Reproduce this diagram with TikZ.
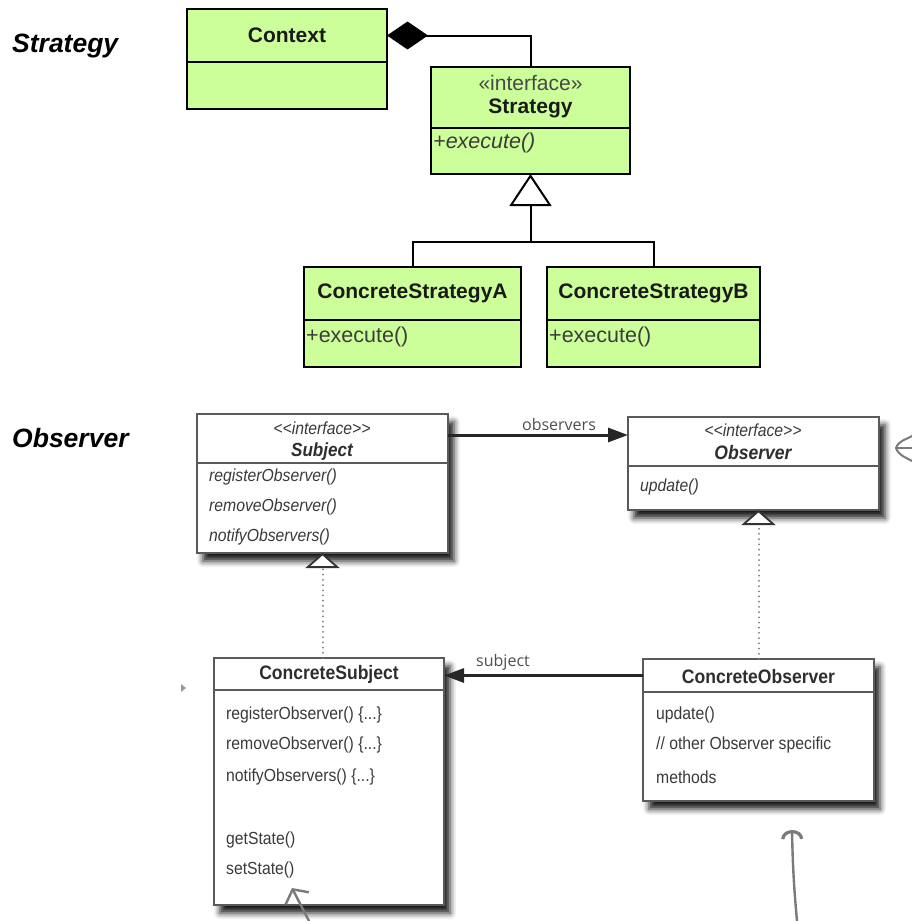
\documentclass[tikz,border=0pt]{standalone}
\usepackage{fontspec}
\setmainfont{Liberation Sans}
\newfontfamily\condfont[FakeStretch=0.9,Ligatures=TeXOff]{Liberation Sans}
\newfontfamily\lblfont{Open Sans}
\usetikzlibrary{arrows.meta,shadows.blur,backgrounds,fit}

\definecolor{umlgreen}{HTML}{CCFF99}
\definecolor{umlink}{HTML}{1A1A1A}
\definecolor{boxline}{HTML}{5A5A5A}
\definecolor{boxtext}{HTML}{3A3A3A}
\definecolor{penline}{HTML}{7A7A7A}

\tikzset{
  gbox/.style={draw=black, line width=2pt, fill=umlgreen, inner sep=0pt, outer sep=0pt},
  wbox/.style={draw=boxline, line width=1.4pt, fill=white, inner sep=0pt, outer sep=0pt},
  boxshade/.style={fill=white, inner sep=0pt, outer sep=0pt,
    blur shadow={shadow xshift=6pt, shadow yshift=-8pt, shadow blur radius=6pt, shadow opacity=90}},
  sectitle/.style={font=\fontsize{26.5}{30}\selectfont\bfseries\itshape, text=black, inner sep=0pt, anchor=base west},
  gtitle/.style={font=\fontsize{21}{25}\selectfont\bfseries, text=umlink, inner sep=0pt},
  gstereo/.style={font=\fontsize{21}{25}\selectfont, text=umlink!80, inner sep=0pt},
  gop/.style={font=\fontsize{21.5}{25}\selectfont, text=umlink!85, inner sep=0pt, anchor=west},
  wtitle/.style={font=\condfont\fontsize{19.5}{23}\selectfont\bfseries, text=boxtext!80!black, inner sep=0pt},
  wstereo/.style={font=\condfont\fontsize{17.5}{21}\selectfont\itshape, text=boxtext, inner sep=0pt},
  wop/.style={font=\condfont\fontsize{17.5}{21}\selectfont, text=boxtext, inner sep=0pt, anchor=west},
  rolelbl/.style={font=\lblfont\fontsize{16}{19}\selectfont, text=boxtext!90, inner sep=0pt},
  compose/.style={line width=2pt, draw=black, {Diamond[length=41pt, width=28pt, fill=black]}-},
  general/.style={line width=2pt, draw=black},
  realize/.style={draw=penline, line width=2pt, line cap=round, dash pattern=on 0.01pt off 5.2pt,
    -{Triangle[open, length=15pt, width=34pt, line width=1.8pt, color=black!80, fill=white]}},
  assoc/.style={draw=black!85, line width=3pt, -{Triangle[length=20pt, width=14pt]}},
  penstroke/.style={draw=penline, line width=2.4pt, line cap=round, line join=round},
}

\begin{document}
\begin{tikzpicture}[x=1pt, y=-1pt]
\useasboundingbox (0,0) rectangle (911,921);

% ---------------- Strategy pattern ----------------
\node[sectitle] (lblstrategy) at (12,52) {Strategy};

\node[gbox, minimum width=200pt, minimum height=53pt] (ctxhead) at (287,35.5) {};
\node[gbox, minimum width=200pt, minimum height=47pt, anchor=north] (ctxbody) at (ctxhead.south) {};
\node[gtitle] (ctxname) at (ctxhead) {Context};

\node[gbox, minimum width=199pt, minimum height=61pt] (sthead) at (530.5,97.5) {};
\node[gbox, minimum width=199pt, minimum height=46pt, anchor=north] (stbody) at (sthead.south) {};
\node[gstereo] (ststereo) at (530.5,83) {«interface»};
\node[gtitle] (stname) at (530.5,108) {Strategy};
\node[gop, font=\fontsize{21.5}{25}\selectfont\itshape] (stop) at (433,143) {+execute()};

\node[gbox, minimum width=217pt, minimum height=53pt] (cahead) at (412.5,293.5) {};
\node[gbox, minimum width=217pt, minimum height=47pt, anchor=north] (cabody) at (cahead.south) {};
\node[gtitle] (caname) at (cahead) {ConcreteStrategyA};
\node[gop] (caop) at (306,337) {+execute()};

\node[gbox, minimum width=213pt, minimum height=53pt] (cbhead) at (653.5,293.5) {};
\node[gbox, minimum width=213pt, minimum height=47pt, anchor=north] (cbbody) at (cbhead.south) {};
\node[gtitle] (cbname) at (cbhead) {ConcreteStrategyB};
\node[gop] (cbop) at (549,337) {+execute()};

% composition Context <>--- Strategy
\draw[compose] (ctxhead.east) -| (sthead.north);

% generalization of the two concrete strategies
\coordinate (stjoin) at (530.5,242);
\draw[general] (cahead.north) |- (stjoin) -| (cbhead.north);
\draw[general, -{Triangle[open, length=32pt, width=42pt, fill=white]}] (stjoin) -- (stbody.south);

% ---------------- Observer pattern ----------------
\node[sectitle] (lblobserver) at (12,447) {Observer};

% shadows behind the class boxes
\node[boxshade, minimum width=251pt, minimum height=139pt] (subjshade) at (322.5,483.5) {};
\node[boxshade, minimum width=251pt, minimum height=93pt] (obsshade) at (753.5,463.5) {};
\node[boxshade, minimum width=230pt, minimum height=247pt] (csshade) at (329,781.5) {};
\node[boxshade, minimum width=231pt, minimum height=142pt] (coshade) at (758.5,730) {};

% Subject
\node[wbox, minimum width=251pt, minimum height=49pt] (subjhead) at (322.5,438.5) {};
\node[wbox, minimum width=251pt, minimum height=90pt, anchor=north] (subjbody) at (subjhead.south) {};
\node[wstereo] (subjstereo) at (322,428) {<<interface>>};
\node[wtitle, font=\condfont\fontsize{19}{23}\selectfont\bfseries\itshape] (subjname) at (322,452) {Subject};
\node[wop, font=\condfont\fontsize{17.5}{21}\selectfont\itshape] (subjop1) at (209,477) {registerObserver()};
\node[wop, font=\condfont\fontsize{17.5}{21}\selectfont\itshape] (subjop2) at (209,507) {removeObserver()};
\node[wop, font=\condfont\fontsize{17.5}{21}\selectfont\itshape] (subjop3) at (209,537) {notifyObservers()};

% Observer
\node[wbox, minimum width=251pt, minimum height=49pt] (obshead) at (753.5,441.5) {};
\node[wbox, minimum width=251pt, minimum height=44pt, anchor=north] (obsbody) at (obshead.south) {};
\node[wstereo] (obsstereo) at (753,430) {<<interface>>};
\node[wtitle, font=\condfont\fontsize{19.5}{23}\selectfont\bfseries\itshape] (obsname) at (753,453) {Observer};
\node[wop, font=\condfont\fontsize{17.5}{21}\selectfont\itshape] (obsop) at (640,487) {update()};

% ConcreteSubject
\node[wbox, minimum width=230pt, minimum height=32pt] (cshead) at (329,674) {};
\node[wbox, minimum width=230pt, minimum height=215pt, anchor=north] (csbody) at (cshead.south) {};
\node[wtitle] (csname) at (329,674) {ConcreteSubject};
\node[wop] (csop1) at (226,715) {registerObserver() \{...\}};
\node[wop] (csop2) at (226,745) {removeObserver() \{...\}};
\node[wop] (csop3) at (226,777) {notifyObservers() \{...\}};
\node[wop] (csop4) at (226,840) {getState()};
\node[wop] (csop5) at (226,870) {setState()};

% ConcreteObserver
\node[wbox, minimum width=231pt, minimum height=33pt] (cohead) at (758.5,675.5) {};
\node[wbox, minimum width=231pt, minimum height=109pt, anchor=north] (cobody) at (cohead.south) {};
\node[wtitle] (coname) at (758.5,677) {ConcreteObserver};
\node[wop] (coop1) at (656,715) {update()};
\node[wop] (coop2) at (656,745) {// other Observer specific};
\node[wop] (coop3) at (656,777) {methods};

% associations
\draw[assoc] ([yshift=3.5pt]subjhead.east) -- ([yshift=3.5pt]subjhead.east -| obshead.west);
\node[rolelbl] (obsrole) at (559,424) {observers};
\draw[assoc] (cohead.west) -- (cohead.west -| cshead.east);
\node[rolelbl] (subjrole) at (503,662) {subject};

% realizations
\draw[realize] (cshead.north -| subjbody.south) -- (subjbody.south);
\draw[realize] (cohead.north) -- (cohead.north |- obsbody.south);

% small marker left of ConcreteSubject
\fill[black!40] (181,684) -- (186,688) -- (181,692) -- cycle;

% pen annotations
\coordinate (penAfrom) at (309,921);
\coordinate (penAto) at (292,888);
\draw[penstroke, -{Straight Barb[length=10pt, width=26pt, line width=2.4pt]}] (penAfrom) -- (penAto);

\coordinate (penBfrom) at (797,921);
\coordinate (penBto) at (792,830);
\draw[penstroke, -{Arc Barb[length=9pt, width=22pt, line width=3.2pt]}] (penBfrom) to[bend left=2] (penBto);

\coordinate (penCtop) at (912,436);
\coordinate (penCtip) at (896,448);
\coordinate (penCbot) at (912,461);
\draw[penstroke, line width=2pt] (penCtop) to[out=210, in=70] (penCtip) to[out=-70, in=150] (penCbot);
\draw[penstroke, line width=2pt] (penCtip) -- (912,448);
\end{tikzpicture}
\end{document}
